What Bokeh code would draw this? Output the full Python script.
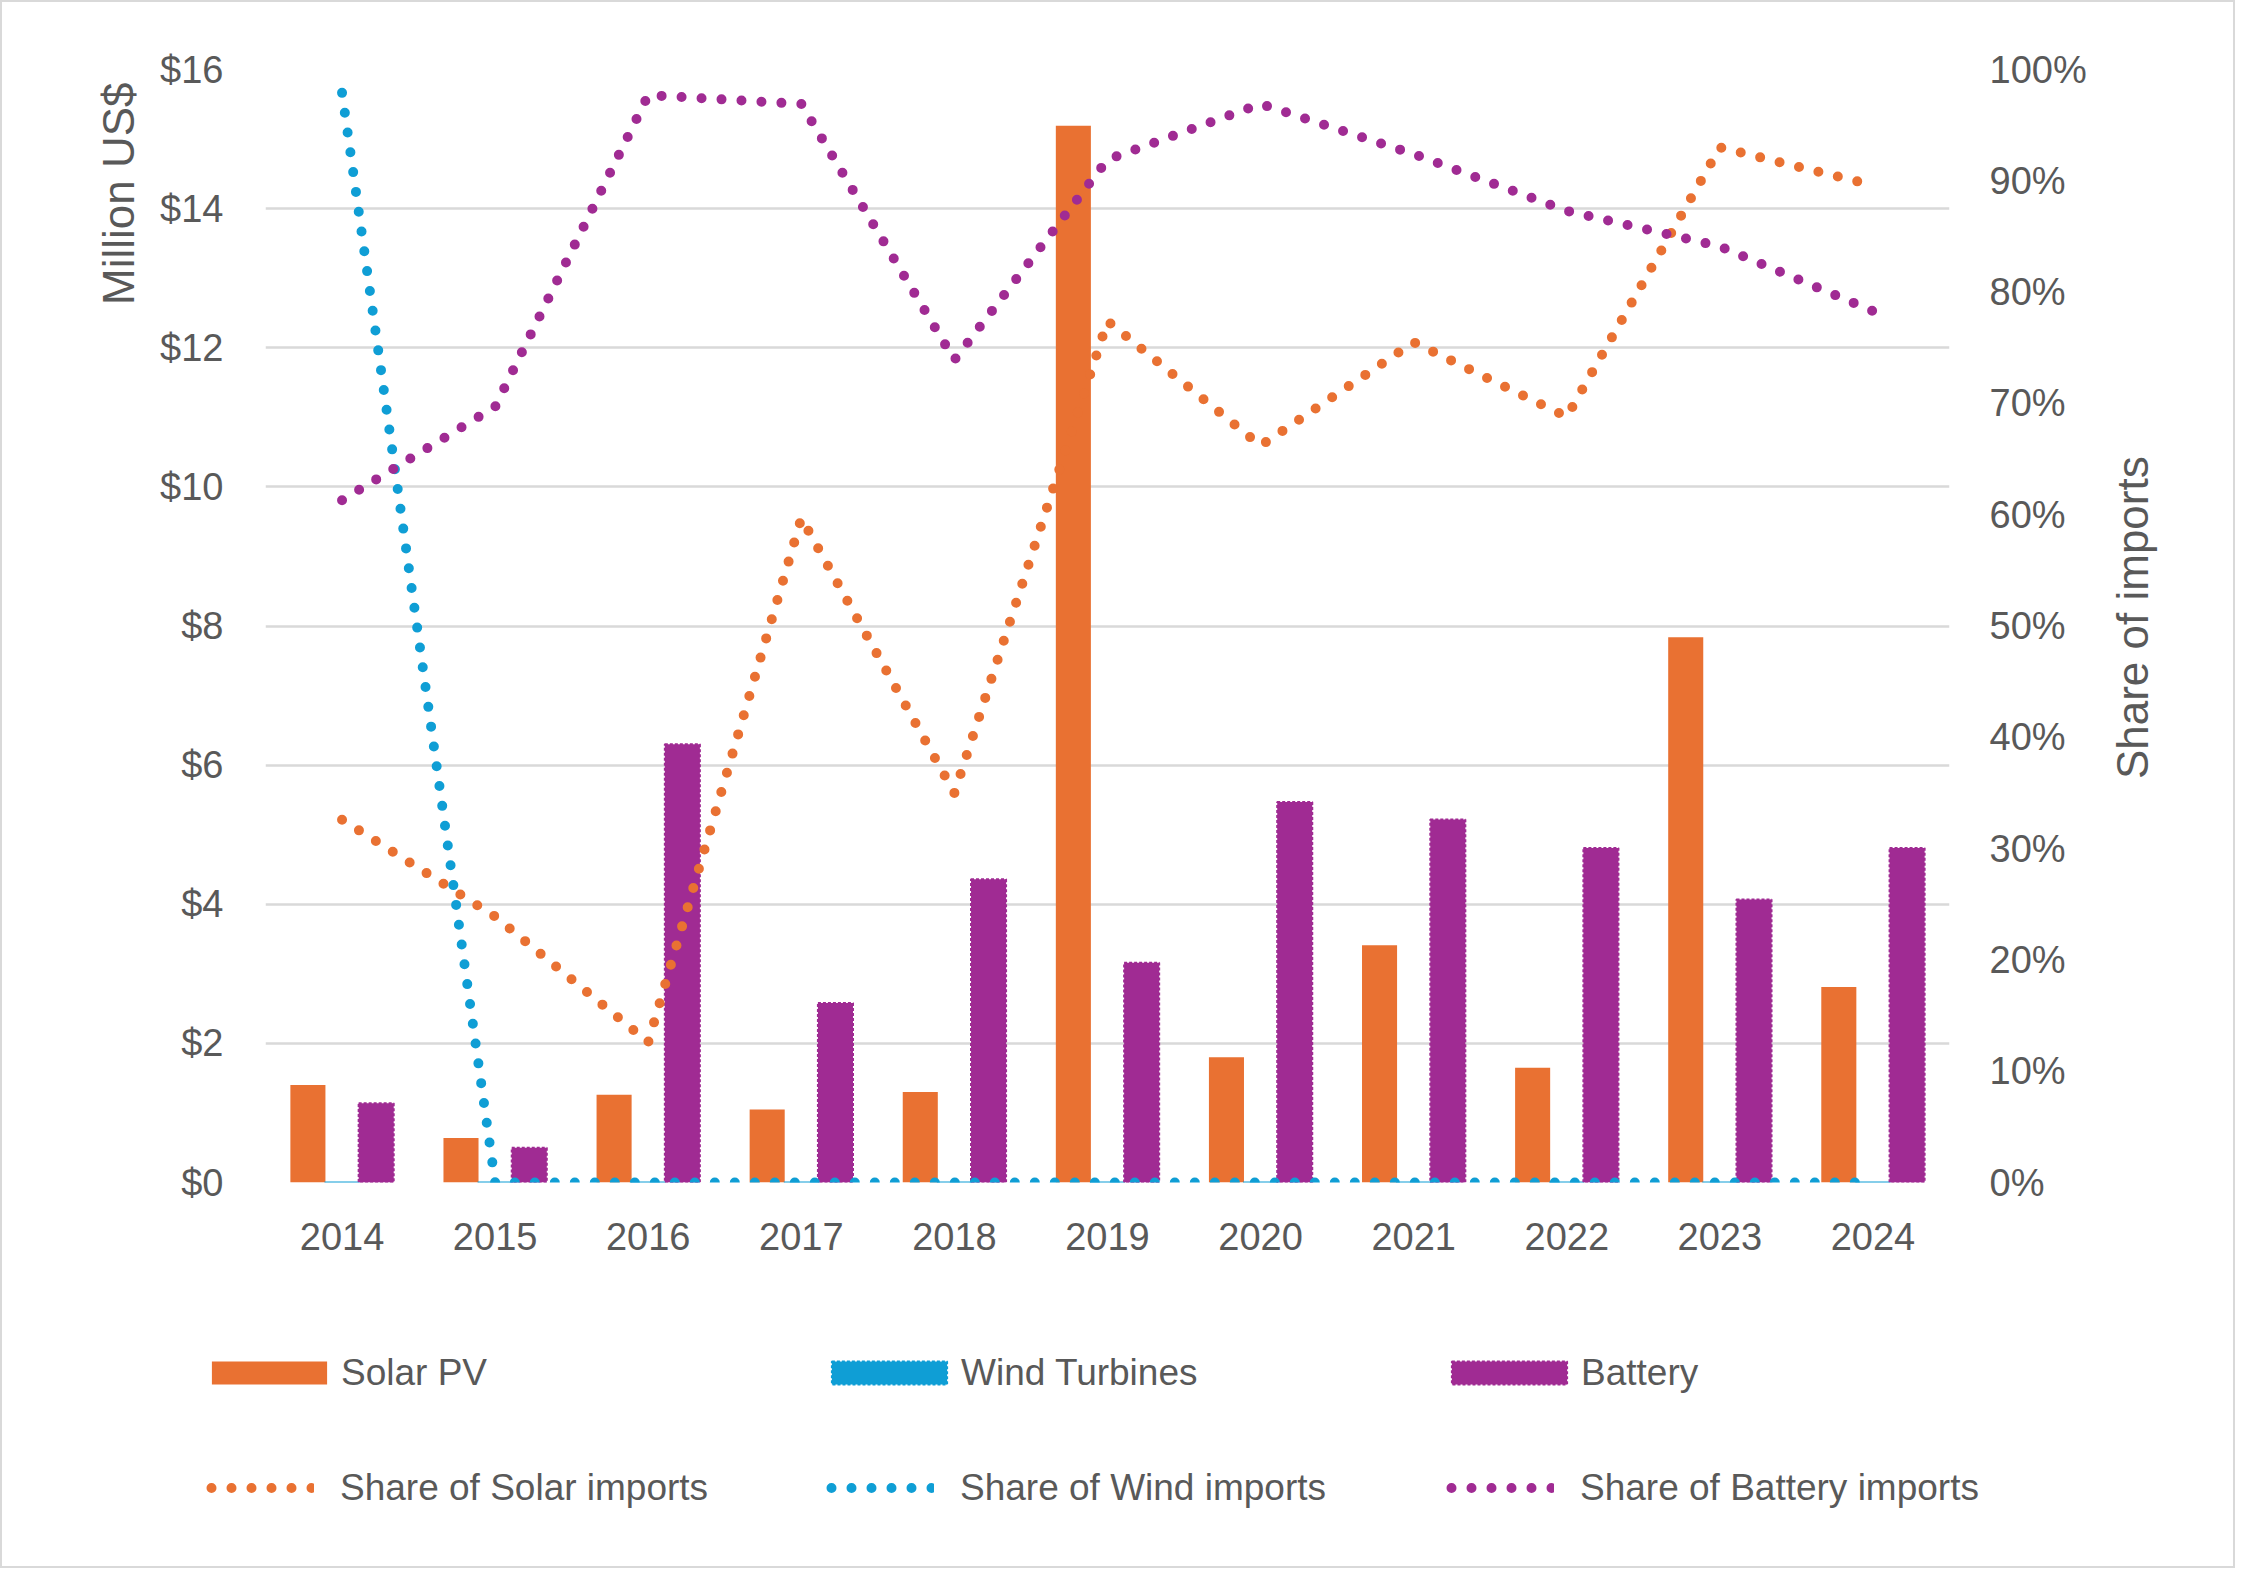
import math
from bokeh.plotting import figure
from bokeh.models import (ColumnDataSource, Range1d, LinearAxis, FixedTicker,
                          NumeralTickFormatter, Legend, LegendItem, Title)
from bokeh.transform import dodge
from bokeh.embed import file_html
from bokeh.resources import INLINE

# ---------------- data ----------------
years = ["2014", "2015", "2016", "2017", "2018", "2019", "2020", "2021", "2022", "2023", "2024"]
solar_pv = [1.40, 0.64, 1.26, 1.05, 1.30, 15.19, 1.80, 3.41, 1.65, 7.84, 2.81]          # Million US$
wind_turbines = [0.0, 0.0, 0.0, 0.0, 0.0, 0.0, 0.0, 0.0, 0.0, 0.0, 0.0]                 # Million US$
battery = [1.14, 0.50, 6.30, 2.58, 4.36, 3.16, 5.47, 5.22, 4.81, 4.07, 4.81]            # Million US$
solar_share = [0.326, 0.239, 0.126, 0.597, 0.350, 0.774, 0.662, 0.755, 0.688, 0.930, 0.896]
wind_share = [0.979, 0.0, 0.0, 0.0, 0.0, 0.0, 0.0, 0.0, 0.0, 0.0, 0.0]
battery_share = [0.613, 0.697, 0.977, 0.969, 0.739, 0.919, 0.969, 0.924, 0.873, 0.841, 0.783]
usd_ticks = [0, 2, 4, 6, 8, 10, 12, 14, 16]
share_ticks = [0.0, 0.1, 0.2, 0.3, 0.4, 0.5, 0.6, 0.7, 0.8, 0.9, 1.0]

# ---------------- style ----------------
SOLAR = "#E97132"
WIND = "#0F9ED5"
BATT = "#A02B93"
TEXT = "#595959"
GRID = "#D9D9D9"
FONT = "Liberation Sans"
BORDER = "2px solid #d9d9d9"

BW = 0.229
OFF = 0.223
DOT = dict(line_width=10, line_dash="0 20", line_cap="round", line_join="round")
KEY_DOT = dict(DOT, line_dash_offset=-5)
BAR_STYLES = {
    "solar": dict(fill_color=SOLAR, line_color=None),
    "wind": dict(fill_color=WIND, line_color=WIND, line_width=2, line_dash="3 2"),
    "battery": dict(fill_color=BATT, line_color=BATT, line_width=2, line_dash="3 2"),
}

idx = list(range(len(years)))
src = ColumnDataSource(dict(idx=idx, solar=solar_pv, wind=wind_turbines, battery=battery,
                            s_share=solar_share, w_share=wind_share, b_share=battery_share))

# ================= chart =================
p = figure(width=2235, height=1297, output_backend="svg", toolbar_location=None,
           x_range=Range1d(-0.5, len(years) - 0.5), y_range=Range1d(0, 16),
           min_border_left=263, min_border_right=288, min_border_top=67, min_border_bottom=117)
p.styles = {"border-top": BORDER, "border-left": BORDER, "border-right": BORDER}
p.outline_line_color = None
p.background_fill_color = "white"
p.border_fill_color = "white"
p.xgrid.grid_line_color = None
p.ygrid.grid_line_color = GRID
p.ygrid.grid_line_width = 2.5
p.ygrid.ticker = FixedTicker(ticks=usd_ticks)

p.extra_y_ranges = {"share": Range1d(0, 1)}

p.vbar(x=dodge("idx", -OFF), top="solar", width=BW, source=src, **BAR_STYLES["solar"])
p.vbar(x="idx", top="wind", width=BW, source=src, **BAR_STYLES["wind"])
p.vbar(x=dodge("idx", OFF), top="battery", width=BW, source=src, **BAR_STYLES["battery"])

p.line("idx", "s_share", y_range_name="share", source=src, line_color=SOLAR, **DOT)
p.line("idx", "w_share", y_range_name="share", source=src, line_color=WIND, **DOT)
p.line("idx", "b_share", y_range_name="share", source=src, line_color=BATT, **DOT)


def style_axis(ax, label_standoff):
    ax.axis_line_color = None
    ax.major_tick_line_color = None
    ax.minor_tick_line_color = None
    ax.major_tick_out = 0
    ax.major_tick_in = 0
    ax.major_label_text_font = FONT
    ax.major_label_text_font_size = "38px"
    ax.major_label_text_color = TEXT
    ax.major_label_standoff = label_standoff
    ax.axis_label_text_font = FONT
    ax.axis_label_text_font_size = "44px"
    ax.axis_label_text_font_style = "normal"
    ax.axis_label_text_color = TEXT


xax = p.below[0]
xax.ticker = FixedTicker(ticks=idx)
xax.major_label_overrides = {i: y for i, y in zip(idx, years)}
style_axis(xax, 40)

yax = p.left[0]
yax.ticker = FixedTicker(ticks=usd_ticks)
yax.formatter = NumeralTickFormatter(format="$0")
style_axis(yax, 42)

left_title = Title(text="Million US$", align="right", offset=13, standoff=30,
                   text_font=FONT, text_font_size="44px", text_font_style="normal",
                   text_color=TEXT)
p.add_layout(left_title, "left")

rax = LinearAxis(y_range_name="share", ticker=FixedTicker(ticks=share_ticks),
                 formatter=NumeralTickFormatter(format="0%"),
                 axis_label="\u00a0" * 33 + "Share of imports")
style_axis(rax, 40)
rax.axis_label_standoff = 43
rax.axis_label_orientation = math.pi / 2
rax.axis_label_align = "start"
p.add_layout(rax, "right")

# ================= legend strip (separate root, its frame is the whole strip) =================
q = figure(width=2235, height=271, output_backend="svg", toolbar_location=None,
           x_range=Range1d(0, 1), y_range=Range1d(0, 1),
           x_axis_location=None, y_axis_location=None, min_border=0)
q.styles = {"border-bottom": BORDER, "border-left": BORDER, "border-right": BORDER}
q.outline_line_color = None
q.xgrid.grid_line_color = None
q.ygrid.grid_line_color = None
q.background_fill_color = "white"
q.border_fill_color = "white"

# key-only renderers: one missing (NaN) row each, so nothing is drawn but the legend keys
nan = float("nan")
key_src = ColumnDataSource(dict(x=[nan], top=[nan], y=[nan]))
k_solar = q.vbar(x="x", top="top", width=0.1, source=key_src, **BAR_STYLES["solar"])
k_wind = q.vbar(x="x", top="top", width=0.1, source=key_src, **BAR_STYLES["wind"])
k_batt = q.vbar(x="x", top="top", width=0.1, source=key_src, **BAR_STYLES["battery"])
k_ss = q.line("x", "y", source=key_src, line_color=SOLAR, **KEY_DOT)
k_ws = q.line("x", "y", source=key_src, line_color=WIND, **KEY_DOT)
k_bs = q.line("x", "y", source=key_src, line_color=BATT, **KEY_DOT)


def make_legend(items, loc, glyph_w, standoff, label_w):
    lg = Legend(items=items, location=loc, orientation="horizontal")
    lg.glyph_width = glyph_w
    lg.glyph_height = 29
    lg.label_standoff = standoff
    lg.label_width = label_w
    lg.label_height = 43
    lg.spacing = 40
    lg.padding = 0
    lg.margin = 0
    lg.border_line_color = None
    lg.background_fill_alpha = 0
    lg.label_text_font = FONT
    lg.label_text_font_size = "37px"
    lg.label_text_color = TEXT
    return lg


legend_bars = make_legend([
    LegendItem(label="Solar PV", renderers=[k_solar]),
    LegendItem(label="Wind Turbines", renderers=[k_wind]),
    LegendItem(label="Battery", renderers=[k_batt]),
], (195, 174), 144, 0, 436)
legend_lines = make_legend([
    LegendItem(label="Share of Solar imports", renderers=[k_ss]),
    LegendItem(label="Share of Wind imports", renderers=[k_ws]),
    LegendItem(label="Share of Battery imports", renderers=[k_bs]),
], (204, 59), 108, 26, 446)
q.add_layout(legend_bars)
q.add_layout(legend_lines)

open("out.html", "w").write(file_html([p, q], INLINE))
